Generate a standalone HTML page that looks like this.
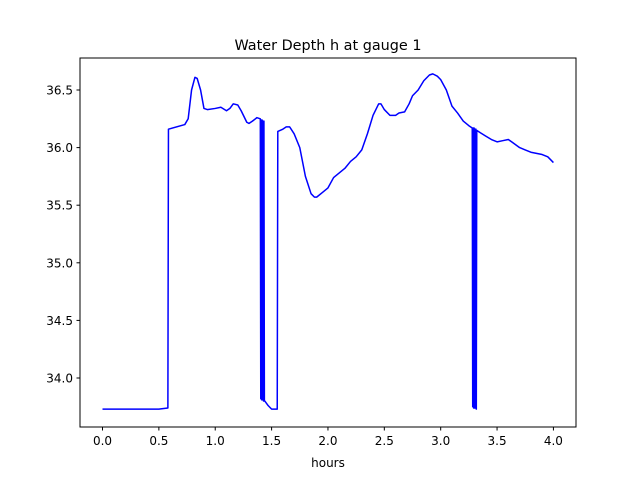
<!DOCTYPE html>
<html><head><meta charset="utf-8"><style>
html,body{margin:0;padding:0;background:#fff;}
svg text{font-family:"DejaVu Sans","Liberation Sans",sans-serif;fill:#000;}
</style></head><body>
<svg id="chart" width="640" height="480" xmlns="http://www.w3.org/2000/svg">
<rect x="0" y="0" width="640" height="480" fill="#fff"/>
<text x="328" y="50" font-size="14.4" text-anchor="middle">Water Depth h at gauge 1</text>
<g id="series"></g>
<rect x="80" y="58" width="496" height="369" fill="none" stroke="#000" stroke-width="1"/>
<g id="xticks"></g><g id="yticks"></g>
<text x="328" y="467" font-size="12" text-anchor="middle">hours</text>
</svg>
<script>
const times = [0,0.5,0.58,0.585,0.73,0.76,0.79,0.82,0.84,0.87,0.9,0.93,1.0,1.05,1.1,1.13,1.16,1.2,1.23,1.28,1.3,1.33,1.37,1.4,
1.404,1.408,1.412,1.416,1.42,1.424,1.428,1.432,1.436,1.44,1.47,1.5,1.55,1.555,1.6,1.63,1.66,1.7,1.75,1.8,1.85,1.88,1.9,1.95,2.0,2.05,2.1,2.15,2.2,2.25,2.3,2.35,2.4,2.45,2.47,2.5,2.55,2.6,2.63,2.68,2.72,2.75,2.8,2.85,2.9,2.93,2.97,3.0,3.05,3.1,3.15,3.2,3.25,3.28,
3.284,3.288,3.292,3.296,3.3,3.304,3.308,3.312,3.316,3.32,3.35,3.4,3.45,3.5,3.55,3.6,3.63,3.7,3.75,3.8,3.85,3.9,3.95,4.0];
const depths = [33.73,33.73,33.74,36.16,36.20,36.25,36.50,36.61,36.60,36.50,36.34,36.33,36.34,36.35,36.32,36.34,36.38,36.37,36.32,36.22,36.21,36.23,36.26,36.25,
33.82,36.24,33.81,36.24,33.81,36.23,33.80,36.23,33.80,33.80,33.76,33.73,33.73,36.14,36.16,36.18,36.18,36.12,36.0,35.75,35.60,35.57,35.57,35.61,35.65,35.74,35.78,35.82,35.88,35.92,35.98,36.12,36.28,36.38,36.38,36.33,36.28,36.28,36.30,36.31,36.38,36.45,36.50,36.58,36.63,36.64,36.62,36.59,36.50,36.36,36.30,36.23,36.19,36.17,
33.75,36.17,33.74,36.17,33.74,36.16,33.74,36.16,33.73,36.15,36.13,36.10,36.07,36.05,36.06,36.07,36.05,36.00,35.98,35.96,35.95,35.94,35.92,35.87];
const xTickValues = [0,0.5,1,1.5,2,2.5,3,3.5,4];
const xTickLabels = ["0.0","0.5","1.0","1.5","2.0","2.5","3.0","3.5","4.0"];
const yTickValues = [34.0,34.5,35.0,35.5,36.0,36.5];
const yTickLabels = ["34.0","34.5","35.0","35.5","36.0","36.5"];

const NS="http://www.w3.org/2000/svg";
function xs(v){return 102.5 + v*112.73;}
function ys(v){return 90 + (36.5-v)*115.2;}
const line=document.createElementNS(NS,"polyline");


line.setAttribute("points",times.map((t,i)=>xs(t).toFixed(2)+","+ys(depths[i]).toFixed(2)).join(" "));
line.setAttribute("fill","none");line.setAttribute("stroke","#0000ff");line.setAttribute("stroke-width","1.5");
line.setAttribute("stroke-linejoin","round");
document.getElementById("series").appendChild(line);
const xg=document.getElementById("xticks");
xTickValues.forEach((v,i)=>{
  const l=document.createElementNS(NS,"line");
  
  
  l.setAttribute("x1",xs(v));l.setAttribute("x2",xs(v));l.setAttribute("y1",427);l.setAttribute("y2",430.5);l.setAttribute("stroke","#000");
  xg.appendChild(l);
  const t=document.createElementNS(NS,"text");
  
  
  t.setAttribute("x",xs(v));t.setAttribute("y",445);t.setAttribute("font-size","12");t.setAttribute("text-anchor","middle");
  t.textContent=xTickLabels[i];xg.appendChild(t);
});
const yg=document.getElementById("yticks");
yTickValues.forEach((v,i)=>{
  const l=document.createElementNS(NS,"line");
  
  
  l.setAttribute("x1",76.5);l.setAttribute("x2",80);l.setAttribute("y1",ys(v));l.setAttribute("y2",ys(v));l.setAttribute("stroke","#000");
  yg.appendChild(l);
  const t=document.createElementNS(NS,"text");
  
  
  t.setAttribute("x",73);t.setAttribute("y",ys(v)+4.5);t.setAttribute("font-size","12");t.setAttribute("text-anchor","end");
  t.textContent=yTickLabels[i];yg.appendChild(t);
});
</script>
</body></html>
